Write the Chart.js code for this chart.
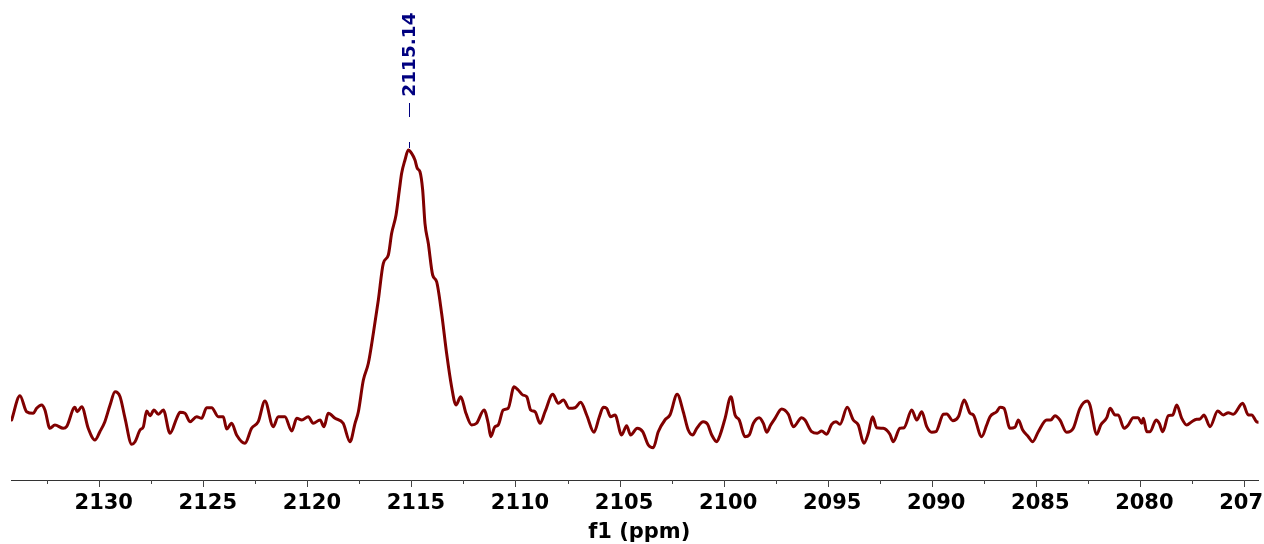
<!DOCTYPE html>
<html>
<head>
<meta charset="utf-8">
<script src="https://cdn.jsdelivr.net/npm/chart.js@4.4.1/dist/chart.umd.min.js"></script>
<style>
  html, body { margin: 0; padding: 0; background: #ffffff; }
  #wrap { width: 1264px; height: 544px; overflow: hidden; position: relative; }
  canvas { display: block; }
</style>
</head>
<body>
<div id="wrap"><canvas id="c" width="1330" height="544"></canvas></div>
<script>
// Chemical shift (ppm)
const shiftPpm = [
  2134.21,2133.81,2133.49,2133.17,2133.01,2132.77,2132.61,2132.37,2132.13,2131.73,
  2131.57,2131.17,2131.06,2130.84,2130.53,2130.21,2129.97,2129.73,2129.48,2129.24,
  2129.00,2128.76,2128.44,2128.28,2128.04,2127.88,2127.72,2127.56,2127.37,2127.16,
  2126.92,2126.60,2126.28,2126.12,2125.88,2125.64,2125.32,2125.08,2124.84,2124.60,
  2124.28,2124.04,2123.88,2123.64,2123.40,2123.00,2122.68,2122.36,2122.04,2121.64,
  2121.40,2121.08,2120.75,2120.51,2120.27,2119.96,2119.72,2119.39,2119.20,2119.00,
  2118.67,2118.28,2117.95,2117.71,2117.55,2117.31,2117.07,2116.83,2116.59,2116.35,
  2116.11,2115.95,2115.74,2115.58,2115.47,2115.31,2115.15,2114.99,2114.83,2114.72,
  2114.59,2114.46,2114.35,2114.19,2113.98,2113.79,2113.55,2113.31,2113.07,2112.86,
  2112.63,2112.38,2112.11,2111.87,2111.51,2111.31,2111.19,2110.99,2110.83,2110.59,
  2110.35,2110.07,2109.87,2109.65,2109.46,2109.27,2109.06,2108.82,2108.58,2108.21,
  2107.94,2107.70,2107.42,2107.14,2106.87,2106.58,2106.23,2105.97,2105.78,2105.62,
  2105.43,2105.22,2104.90,2104.66,2104.47,2104.15,2103.89,2103.62,2103.38,2103.14,
  2102.82,2102.58,2102.23,2101.94,2101.70,2101.49,2101.29,2100.98,2100.77,2100.57,
  2100.33,2100.17,2099.93,2099.65,2099.45,2099.25,2098.97,2098.77,2098.57,2098.29,
  2098.09,2097.93,2097.74,2097.53,2097.21,2096.89,2096.65,2096.25,2096.09,2095.77,
  2095.50,2095.29,2095.05,2094.81,2094.60,2094.41,2094.06,2093.77,2093.53,2093.26,
  2093.05,2092.84,2092.65,2092.33,2092.01,2091.85,2091.53,2091.33,2090.96,2090.72,
  2090.48,2090.24,2090.00,2089.80,2089.44,2089.28,2088.99,2088.72,2088.44,2088.16,
  2088.00,2087.60,2087.36,2087.20,2086.88,2086.72,2086.53,2086.24,2086.00,2085.84,
  2085.63,2085.36,2085.15,2084.88,2084.48,2084.28,2084.08,2083.84,2083.52,2083.20,
  2082.88,2082.53,2082.40,2082.07,2081.88,2081.59,2081.43,2081.19,2081.04,2080.76,
  2080.56,2080.32,2080.08,2079.91,2079.83,2079.67,2079.51,2079.22,2079.07,2078.90,
  2078.63,2078.42,2078.23,2077.99,2077.75,2077.51,2077.27,2077.11,2076.92,2076.63,
  2076.26,2075.99,2075.75,2075.51,2075.06,2074.79,2074.63,2074.39,2074.28
];
// Intensity (arbitrary units)
const intensity = [
  0,24.3,8.3,6.7,11.7,15,10,-8.3,-5,-8.3,
  -6.7,12.7,8.3,13.3,-8.3,-20,-11.7,-1.7,15,28.3,
  23.3,1.7,-24.3,-21.7,-10,-6.7,9,4.3,10,5.7,
  10,-13.3,1.7,7.7,6.7,-1.7,3.3,1.7,12.3,12.3,
  3.3,3.3,-9,-3.3,-15,-23.3,-8.3,-1.7,19,-6.7,
  3.3,3.3,-11,1.7,0,3.3,-3.3,0,-6.7,6.7,
  1.7,-3.3,-21.7,-3.3,8.3,40,56.7,86.7,120,156.7,
  165,186.7,205,230,246.7,260,270,266.7,260,251.7,
  248.3,230,196.7,176.7,145,138.3,106.7,66.7,33.3,15,
  23.3,6.7,-5,-3.3,10,-3.3,-16.7,-6.7,-5,10,
  11.7,33.3,30,25,23.3,10,8.3,-3.3,8.3,25.7,
  16.7,20,11.7,12.3,17.7,5,-12.3,3.3,12.7,11.7,
  3.3,5,-15,-5.7,-15,-8.3,-11.7,-25,-27.7,-11.7,
  0,5,25.7,8.3,-10,-15,-8.3,-1.7,-4.3,-15,
  -21.7,-15,1.7,23.3,5,0,-16.7,-15,-3.3,2.3,
  -3.3,-12.3,-5,1.7,11,5.7,-6.7,2.3,0,-11.7,
  -13.3,-11,-14.3,-4.3,-1.7,-4.3,12.7,0,-5,-23.3,
  -13.3,3.3,-7.7,-8.3,-14.3,-21.7,-8.3,-7.7,10,0,
  8.3,-6.7,-12.3,-11.7,5.7,6,-0.7,3.3,20,6.7,
  5,-16.7,-5,3.3,8.3,12.7,11.7,-8.3,-7.3,0,
  -10,-16.7,-21.7,-11.7,0,0,4.3,0,-12.3,-8.3,
  11.7,19,15,-14.3,-5,2.3,11.7,5,5,-8.3,
  -5,2.3,2.3,-3.3,1.7,-11.7,-11.7,0,-3.3,-11.7,
  4.3,5,15,1.7,-5,-1.7,0.7,1,5,-6.7,
  9,5,7.3,5.7,16.7,5,5,-1.7,-2.3
];
const peakLabels = [2115.14];
const axisMin = 2074.30;
const axisMax = 2134.24;
const tickStep = 2.5;
const labelStep = 5;
const axisTitle = 'f1 (ppm)';

const FONT = "'DejaVu Sans', Verdana, sans-serif";
Chart.defaults.font.family = FONT;

const points = shiftPpm.map((x, i) => ({ x: x, y: intensity[i] }));

function isMajor(v) {
  const r = Math.abs(v % labelStep);
  return r < 1e-6 || Math.abs(r - labelStep) < 1e-6;
}

const axisPlugin = {
  id: 'nmrAxis',
  afterDraw(chart) {
    const xs = chart.scales.x;
    const ctx = chart.ctx;
    const textShift = 4.5;
    ctx.save();
    ctx.strokeStyle = '#444444';
    ctx.lineWidth = 1;
    xs.ticks.forEach(t => {
      const px = Math.round(xs.getPixelForValue(t.value)) + 0.5;
      const len = isMajor(t.value) ? 7 : 4;
      ctx.beginPath();
      ctx.moveTo(px, xs.top);
      ctx.lineTo(px, xs.top + len);
      ctx.stroke();
    });
    ctx.fillStyle = '#000000';
    ctx.font = "bold 21px " + FONT;
    ctx.textAlign = 'center';
    ctx.textBaseline = 'alphabetic';
    xs.ticks.forEach(t => {
      if (!isMajor(t.value)) return;
      const px = xs.getPixelForValue(t.value) + textShift;
      ctx.fillText(String(Math.round(t.value)), px, xs.top + 29.3);
    });
    ctx.fillText(axisTitle, (chart.chartArea.left + chart.chartArea.right) / 2 + textShift, xs.top + 57.5);
    ctx.restore();
  }
};

const peakPlugin = {
  id: 'peakLabels',
  afterDatasetsDraw(chart) {
    const xs = chart.scales.x, ys = chart.scales.y;
    const ctx = chart.ctx;
    const peakVal = Math.max(...intensity);
    ctx.save();
    ctx.strokeStyle = '#000080';
    ctx.fillStyle = '#000080';
    ctx.lineWidth = 1;
    peakLabels.forEach(p => {
      const px = Math.round(xs.getPixelForValue(p)) + 0.5;
      const py = ys.getPixelForValue(peakVal);
      ctx.beginPath();
      ctx.moveTo(px, py - 8); ctx.lineTo(px, py - 2);
      ctx.moveTo(px, py - 47); ctx.lineTo(px, py - 33);
      ctx.stroke();
      ctx.save();
      ctx.translate(px + 5, py - 53.3);
      ctx.rotate(-Math.PI / 2);
      ctx.font = "bold 18.5px " + FONT;
      ctx.textAlign = 'left';
      ctx.textBaseline = 'alphabetic';
      ctx.fillText(p.toFixed(2), 0, 0);
      ctx.restore();
    });
    ctx.restore();
  }
};

new Chart(document.getElementById('c'), {
  type: 'line',
  data: {
    datasets: [{
      data: points,
      borderColor: '#800000',
      borderWidth: 3,
      pointRadius: 0,
      fill: false,
      cubicInterpolationMode: 'monotone',
      borderJoinStyle: 'round',
      borderCapStyle: 'round'
    }]
  },
  options: {
    responsive: false,
    animation: false,
    devicePixelRatio: 1,
    layout: { padding: { left: 11, right: 71.5, top: 0, bottom: 0 } },
    plugins: { legend: { display: false }, tooltip: { enabled: false } },
    scales: {
      x: {
        type: 'linear',
        reverse: true,
        min: axisMin,
        max: axisMax,
        afterFit: (s) => { s.height = 64; },
        grid: { display: true, drawOnChartArea: false, drawTicks: false },
        border: { display: true, color: '#333333', width: 1 },
        ticks: {
          display: false,
          stepSize: tickStep,
          includeBounds: false,
          autoSkip: false,
          maxRotation: 0
        },
        title: { display: false, text: axisTitle }
      },
      y: {
        display: false,
        min: -60,
        max: 420
      }
    }
  },
  plugins: [axisPlugin, peakPlugin]
});
</script>
</body>
</html>
